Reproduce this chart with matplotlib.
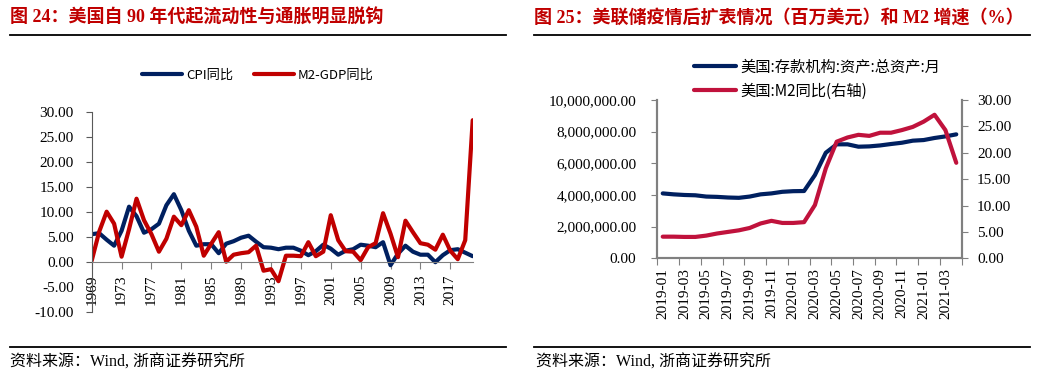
import matplotlib.pyplot as plt
import matplotlib.ticker as mticker
from matplotlib.font_manager import FontProperties

plt.rcParams['font.family'] = ['Liberation Serif', 'Noto Sans CJK SC']

# left chart: US CPI yoy vs M2-GDP yoy, annual
years = list(range(1969, 2021))
cpi = [5.5, 5.7, 4.4, 3.2, 6.2, 11.0, 9.1, 5.8, 6.5, 7.6,
       11.3, 13.5, 10.3, 6.2, 3.2, 3.5, 3.5, 1.7, 3.6, 4.1,
       4.8, 5.2, 4.0, 2.9, 2.8, 2.5, 2.8, 2.8, 2.2, 1.3,
       2.1, 3.4, 2.6, 1.4, 2.2, 2.5, 3.4, 3.2, 2.9, 3.9,
       -0.7, 1.6, 3.2, 2.0, 1.4, 1.4, -0.1, 1.3, 2.3, 2.5,
       1.8, 1.1]
m2_gdp = [0.2, 6.0, 10.0, 7.6, 1.0, 6.5, 12.6, 8.3, 5.5, 2.0,
          4.6, 9.0, 7.3, 10.3, 7.0, 1.2, 3.6, 5.9, 0.0, 1.4,
          1.7, 1.9, 3.2, -1.8, -1.5, -3.9, 1.2, 1.2, 1.1, 3.9,
          1.1, 2.0, 9.3, 4.3, 2.1, 2.0, 0.3, 2.9, 3.7, 9.7,
          5.6, 0.9, 8.2, 5.9, 3.7, 3.4, 2.4, 5.4, 2.2, 0.5,
          4.3, 28.3]
year_ticks = list(range(1969, 2020, 4))

# right chart: depository institutions total assets (million USD) and M2 yoy
months = ['2019-01', '2019-02', '2019-03', '2019-04', '2019-05', '2019-06',
          '2019-07', '2019-08', '2019-09', '2019-10', '2019-11', '2019-12',
          '2020-01', '2020-02', '2020-03', '2020-04', '2020-05', '2020-06',
          '2020-07', '2020-08', '2020-09', '2020-10', '2020-11', '2020-12',
          '2021-01', '2021-02', '2021-03', '2021-04']
assets = [4100000, 4040000, 4000000, 3980000, 3900000, 3880000, 3840000,
          3820000, 3900000, 4040000, 4100000, 4200000, 4240000, 4250000,
          5260000, 6670000, 7200000, 7200000, 7050000, 7070000, 7130000,
          7220000, 7300000, 7430000, 7470000, 7600000, 7700000, 7830000]
m2_yoy = [4.1, 4.1, 4.05, 4.05, 4.3, 4.7, 5.0, 5.3, 5.75, 6.6, 7.1, 6.7,
          6.7, 6.85, 10.1, 17.05, 22.1, 22.9, 23.4, 23.2, 23.8, 23.8,
          24.3, 24.9, 25.9, 27.2, 24.3, 18.1]

W, H = 1039, 385
fig = plt.figure(figsize=(W / 100, H / 100), dpi=100)

def fx(px):
    return px / W

def fy(py):
    return 1 - py / H

title_red = '#C00000'
navy = '#002060'

# titles and rules
fig.text(fx(10), fy(18), '图 24：美国自 90 年代起流动性与通胀明显脱钩', fontsize=13,
         fontweight='bold', color=title_red, va='center', ha='left')
fig.text(fx(534), fy(18), '图 25：美联储疫情后扩表情况（百万美元）和 M2 增速（%）', fontsize=13,
         fontweight='bold', color=title_red, va='center', ha='left')
for x0, x1 in [(10, 506), (534, 1030)]:
    fig.add_artist(plt.Line2D([fx(x0), fx(x1)], [fy(35), fy(35)], color='black', lw=1.3))
    fig.add_artist(plt.Line2D([fx(x0), fx(x1)], [fy(347), fy(347)], color='black', lw=1.3))
fig.text(fx(10), fy(363), '资料来源：Wind, 浙商证券研究所', fontsize=11.5, va='center', ha='left')
fig.text(fx(536), fy(363), '资料来源：Wind, 浙商证券研究所', fontsize=11.5, va='center', ha='left')

# left chart
ax1 = fig.add_axes([fx(91.7), fy(311.7), fx(472.7 - 91.7), 200 / H])
ax1.spines['bottom'].set_position(('data', 0))
ax1.plot(years, cpi, color=navy, lw=3, label='CPI同比', solid_capstyle='round')
ax1.plot(years, m2_gdp, color=title_red, lw=3, label='M2-GDP同比', solid_capstyle='round')
ax1.set_xlim(1969, 2020)
ax1.set_ylim(-10, 30)
ax1.set_yticks(range(-10, 31, 5))
ax1.yaxis.set_major_formatter(mticker.FormatStrFormatter('%.2f'))
ax1.set_xticks(year_ticks)
ax1.set_xticklabels([str(y) for y in year_ticks])
for s in ['top', 'right']:
    ax1.spines[s].set_visible(False)
ax1.spines['bottom'].set_color('#808080')
ax1.spines['left'].set_color('#595959')
ax1.tick_params(axis='y', labelsize=11, length=4, pad=9, color='#595959')
ax1.tick_params(axis='x', labelsize=11, length=5, pad=4, color='#808080', labelrotation=90)
ax1.legend(loc='center', bbox_to_anchor=(fx(258), fy(75)), bbox_transform=fig.transFigure,
           ncol=2, frameon=False, prop=FontProperties(family='Noto Sans CJK SC', size=9.5),
           handlelength=3.0, columnspacing=1.6, handletextpad=0.3, borderpad=0)

# right chart
ax2 = fig.add_axes([fx(657.3), fy(258.3), fx(961.7 - 657.3), 158.3 / H])
ax3 = ax2.twinx()
xpos = [i + 0.5 for i in range(len(months))]
l1, = ax2.plot(xpos, assets, color=navy, lw=3, solid_capstyle='round',
               label='美国:存款机构:资产:总资产:月')
l2, = ax3.plot(xpos, m2_yoy, color='#C0123C', lw=3, solid_capstyle='round',
               label='美国:M2同比(右轴)')
ax2.set_xlim(0, len(months))
ax2.set_ylim(0, 10000000)
ax3.set_ylim(0, 30)
ax2.set_yticks(range(0, 10000001, 2000000))
ax2.yaxis.set_major_formatter(mticker.FuncFormatter(lambda v, p: f'{v:,.2f}'))
ax3.set_yticks(range(0, 31, 5))
ax3.yaxis.set_major_formatter(mticker.FormatStrFormatter('%.2f'))
ax2.set_xticks(range(0, len(months) + 1, 2))
ax2.set_xticklabels([])
ax2.set_xticks(xpos[::2], minor=True)
ax2.set_xticklabels(months[::2], minor=True, rotation=90)
ax2.tick_params(axis='x', which='minor', length=0, pad=7, labelsize=11)
ax2.tick_params(axis='x', which='major', length=5, color='#808080')
ax2.tick_params(axis='y', labelsize=11, length=4, pad=11, color='#808080')
ax3.tick_params(axis='y', labelsize=11, length=4, pad=7, color='#808080')
for a in (ax2, ax3):
    a.spines['top'].set_visible(False)
    for s in ['left', 'right', 'bottom']:
        a.spines[s].set_color('#808080')
        a.spines[s].set_linewidth(1.5)
fig.legend(handles=[l1, l2], loc='center left', bbox_to_anchor=(fx(686.7), fy(79)),
           frameon=False, prop=FontProperties(family='Noto Sans CJK SC', size=11),
           handlelength=2.7, handletextpad=0.3, labelspacing=0.45, borderpad=0)

fig.savefig('out.png', dpi=100)
